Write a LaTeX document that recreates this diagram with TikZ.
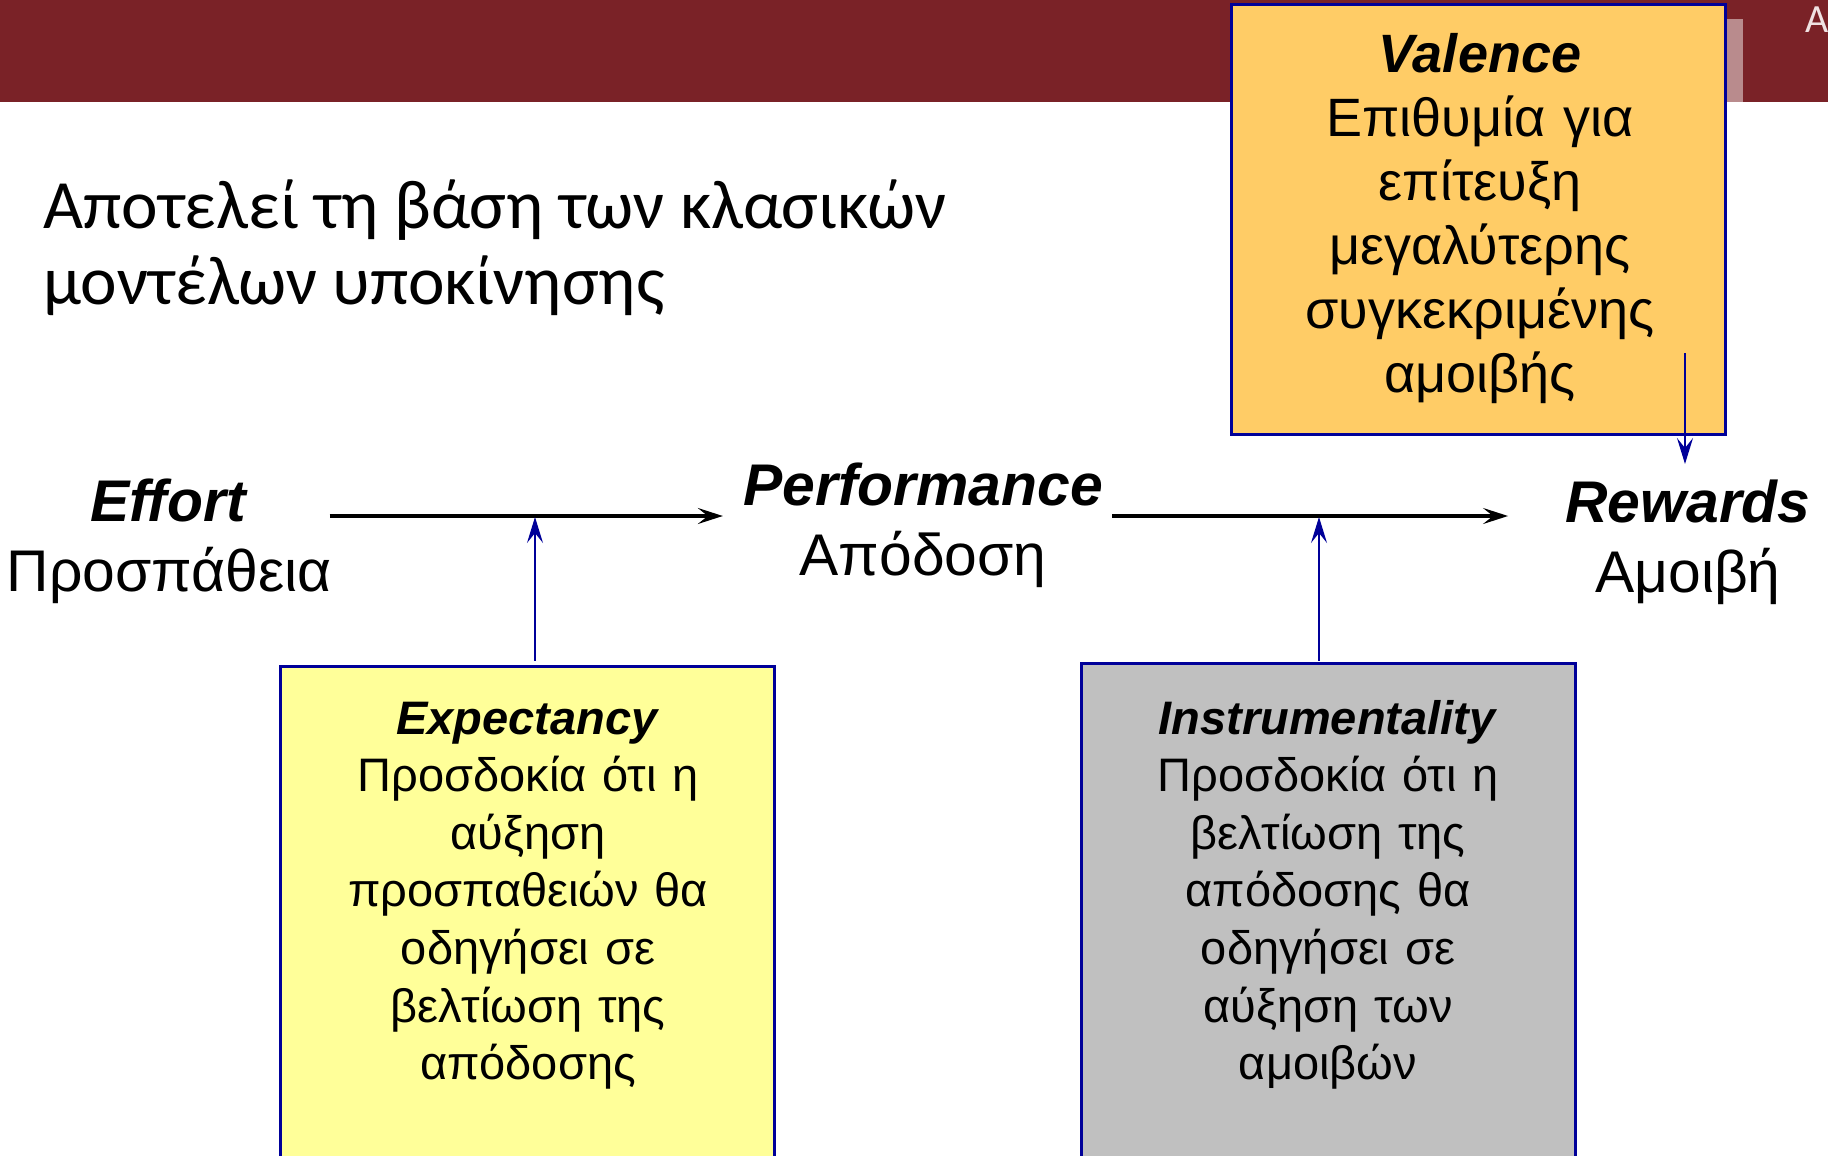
\documentclass[tikz,border=0pt]{standalone}
\usepackage{fontspec}
\setmainfont{Liberation Sans}
\newfontfamily\titlefont{Carlito}
\usetikzlibrary{arrows.meta}
\definecolor{banner}{RGB}{122,34,39}
\definecolor{bannerlite}{RGB}{185,139,141}
\definecolor{bannertext}{RGB}{240,226,226}
\definecolor{frameblue}{RGB}{0,0,153}
\definecolor{valfill}{RGB}{255,204,102}
\definecolor{expfill}{RGB}{255,255,153}
\definecolor{insfill}{RGB}{192,192,192}

\begin{document}
\begin{tikzpicture}[x=0.5pt,y=-0.5pt,
  conceptbox/.style={draw=frameblue, line width=1.5pt, inner sep=0pt, minimum width=247pt},
  boxtext/.style={anchor=base, align=center, text width=240pt, inner sep=0pt,
    font=\fontsize{23.5}{28.8}\selectfont},
  valtext/.style={anchor=base, align=center, text width=240pt, inner sep=0pt,
    font=\fontsize{27}{32}\selectfont},
  stage/.style={anchor=base, align=center, inner sep=0pt,
    font=\fontsize{29.4}{35}\selectfont},
  flow/.style={draw=black, line width=1.6pt, -{Stealth[length=12.5pt,width=8pt,inset=5pt]}},
  influence/.style={draw=frameblue, line width=1pt, -{Stealth[length=13pt,width=8pt,inset=5pt]}},
]
\useasboundingbox (0,0) rectangle (1828,1156);
\clip (0,0) rectangle (1828,1156);

% header band
\fill[banner] (0,0) rectangle (1828,102);
\fill[bannerlite] (1725,19) rectangle (1743,102);
\node[anchor=base west, inner sep=0pt, text=bannertext, font=\titlefont\fontsize{20}{24}\selectfont]
  (corner) at (1805,33) {Α};

% heading (anchored on the baseline of its last line)
\node[anchor=base west, align=left, inner sep=0pt, font=\titlefont\fontsize{34.6}{38.5}\selectfont]
  (heading) at (43,305) {Αποτελεί τη βάση των κλασικών\\μοντέλων υποκίνησης};

% stages of the chain (anchored on the baseline of the Greek line)
\node[stage] (effort) at (169,591) {\textbf{\textit{Effort}}\\Προσπάθεια};
\node[stage] (perf) at (923,575) {\textbf{\textit{Performance}}\\Απόδοση};
\node[stage] (rewards) at (1688,592) {\textbf{\textit{Rewards}}\\Αμοιβή};

% concept boxes
\node[conceptbox, fill=valfill, minimum height=214.5pt] (valbox) at (1478.5,219.5) {};
\node[valtext] (valtxt) at (1480,73) {\textbf{\textit{Valence}}\\Επιθυμία για\\επίτευξη\\μεγαλύτερης\\συγκεκριμένης\\αμοιβής};

\node[conceptbox, fill=expfill, minimum height=252pt] (expbox) at (527,918) {};
\node[boxtext] (exptxt) at (528,734) {\textbf{\textit{Expectancy}}\\Προσδοκία ότι η\\αύξηση\\προσπαθειών θα\\οδηγήσει σε\\βελτίωση της\\απόδοσης};

\node[conceptbox, fill=insfill, minimum height=253.5pt] (insbox) at (1328,916.5) {};
\node[boxtext] (instxt) at (1328,734) {\textbf{\textit{Instrumentality}}\\Προσδοκία ότι η\\βελτίωση της\\απόδοσης θα\\οδηγήσει σε\\αύξηση των\\αμοιβών};

% main chain
\coordinate (axis) at (0,516);
\draw[flow, shorten <=-1pt, shorten >=10pt] (effort.east |- axis) -- (perf.west |- axis);
\draw[flow, shorten <=4.5pt, shorten >=28.5pt] (perf.east |- axis) -- (rewards.west |- axis);

% moderating influences
\coordinate (ein) at (535,517);
\coordinate (iin) at (1319,517);
\coordinate (vout) at (1685,353);
\draw[influence, shorten <=2pt] (expbox.north -| ein) -- (ein);
\draw[influence, shorten <=0.5pt] (insbox.north -| iin) -- (iin);
\draw[influence, shorten >=7.5pt] (vout) -- (vout |- rewards.north);
\end{tikzpicture}
\end{document}
